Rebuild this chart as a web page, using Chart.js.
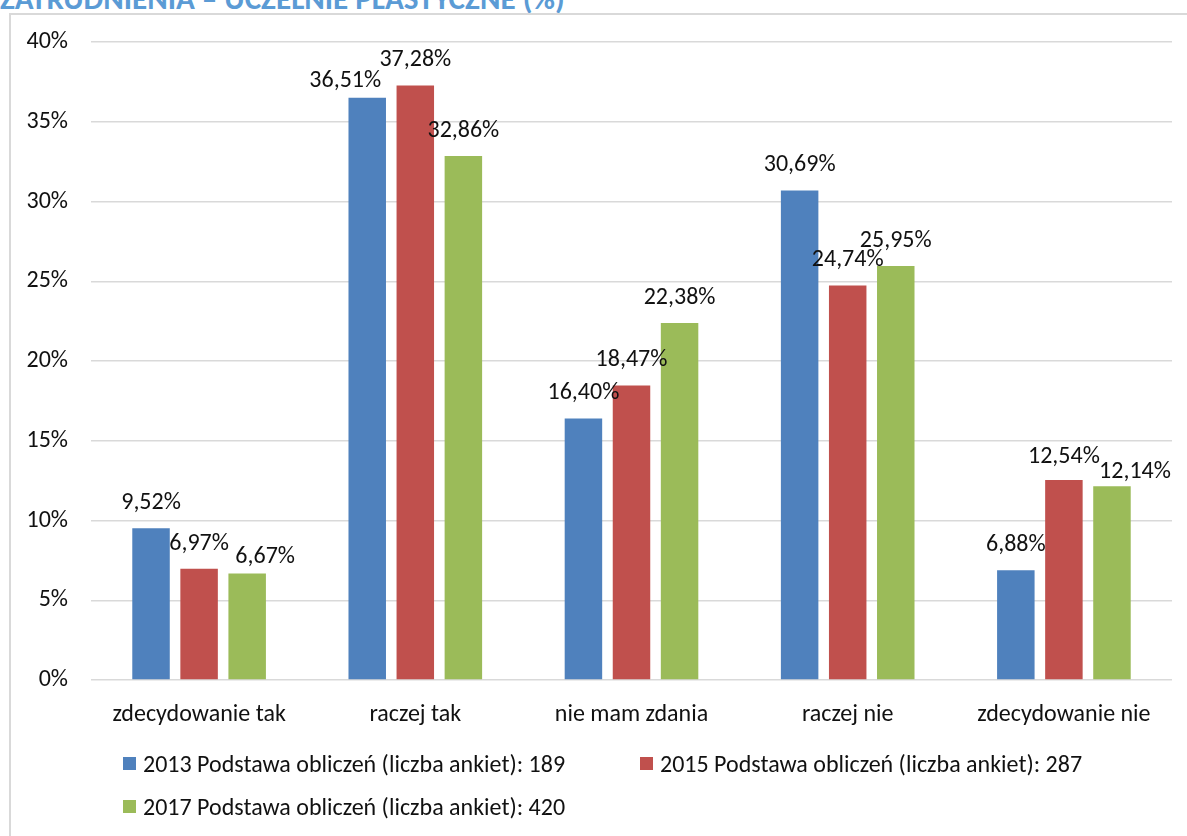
<!DOCTYPE html>
<html>
<head>
<meta charset="utf-8">
<script src="https://cdn.jsdelivr.net/npm/chart.js@4/dist/chart.umd.min.js"></script>
<style>
  html, body { margin:0; padding:0; background:#fff; }
  body { width:1187px; height:836px; position:relative; overflow:hidden; font-family: Carlito, Calibri, Lato, sans-serif; }
  #title { position:absolute; left:0px; top:-20px; font-weight:bold; color:#5B9BD5; font-size:30px; line-height:30px; white-space:nowrap; }
  #box { position:absolute; left:9px; top:13px; width:1300px; height:900px; border-left:2px solid #d9d9d9; border-top:2px solid #d9d9d9; }
  #wrap { position:absolute; left:0; top:0; width:1187px; height:836px; }
  .leg { position:absolute; display:flex; align-items:center; font-size:24px; color:#111; white-space:nowrap; }
  .leg span.sw { display:inline-block; width:13px; height:13px; margin-right:7px; }
</style>
</head>
<body>
<div id="title">ZATRUDNIENIA – UCZELNIE PLASTYCZNE (%)</div>
<div id="box"></div>
<div id="wrap"><canvas id="c" width="1187" height="836"></canvas></div>
<div id="legend"></div>
<script>
const categories = ["zdecydowanie tak", "raczej tak", "nie mam zdania", "raczej nie", "zdecydowanie nie"];
const seriesLabels = [
  "2013 Podstawa obliczeń (liczba ankiet): 189",
  "2015 Podstawa obliczeń (liczba ankiet): 287",
  "2017 Podstawa obliczeń (liczba ankiet): 420"
];
const values2013 = [9.52, 36.51, 16.40, 30.69, 6.88];
const values2015 = [6.97, 37.28, 18.47, 24.74, 12.54];
const values2017 = [6.67, 32.86, 22.38, 25.95, 12.14];
const yTicks = [0, 5, 10, 15, 20, 25, 30, 35, 40];

const colors = ["#4F81BD", "#C0504D", "#9BBB59"];
const FONT = "Carlito, Calibri, Lato, sans-serif";
const FS = 24;

// label nudges (dx, dy) per dataset, per category
const labelNudges = [
  [[0,0],[-22,8],[0,0],[0,0],[0,0]],
  [[0,0],[0,0],[0,0],[0,0],[0,2]],
  [[18,8],[0,0],[0,0],[0,0],[23,11]]
];

const fmt = v => v.toFixed(2).replace('.', ',') + '%';

const labelPlugin = {
  id: 'valueLabels',
  afterDatasetsDraw(chart) {
    const ctx = chart.ctx;
    ctx.save();
    ctx.font = FS + "px " + FONT;
    ctx.fillStyle = "#111";
    ctx.textAlign = "center";
    ctx.textBaseline = "middle";
    chart.data.datasets.forEach((ds, di) => {
      const meta = chart.getDatasetMeta(di);
      meta.data.forEach((el, i) => {
        const n = labelNudges[di][i];
        ctx.fillText(fmt(ds.data[i]), el.x + n[0], el.y - 25 + n[1]);
      });
    });
    ctx.restore();
  }
};

const seriesValues = [values2013, values2015, values2017];

new Chart(document.getElementById('c'), {
  type: 'bar',
  data: {
    labels: categories,
    datasets: seriesValues.map((d, i) => ({
      label: seriesLabels[i],
      data: d,
      backgroundColor: colors[i],
      borderWidth: 0,
      categoryPercentage: 0.667,
      barPercentage: 0.78
    }))
  },
  options: {
    responsive: false,
    animation: false,
    layout: { padding: { left: 0, right: 15, top: 42, bottom: 96 } },
    plugins: { legend: { display: false }, tooltip: { enabled: false } },
    scales: {
      x: {
        grid: { display: false },
        border: { display: false },
        ticks: { color: "#111", font: { family: FONT, size: FS }, padding: 13, maxRotation: 0 },
        afterFit(s) { s.height = 60; }
      },
      y: {
        min: 0, max: 40,
        afterBuildTicks(s) { s.ticks = yTicks.map(v => ({ value: v })); },
        grid: { color: "#d9d9d9", lineWidth: 1.5, drawTicks: false },
        border: { display: false },
        ticks: { color: "#111", font: { family: FONT, size: FS }, padding: 23, callback: v => v + '%' },
        afterFit(s) { s.width = 91; }
      }
    }
  },
  plugins: [labelPlugin]
});

// fit title width to the reference span
const title = document.getElementById('title');
const tw = title.getBoundingClientRect().width;
const fs = 30 * 565 / tw;
title.style.fontSize = fs + 'px';
title.style.lineHeight = fs + 'px';
title.style.top = (9 - fs * 0.85) + 'px';

// legend (HTML, built from series arrays)
const legPos = [[123, 763], [640, 763], [123, 806]];
const legend = document.getElementById('legend');
seriesLabels.forEach((t, i) => {
  const d = document.createElement('div');
  d.className = 'leg';
  d.style.left = legPos[i][0] + 'px';
  d.style.top = (legPos[i][1] - 15) + 'px';
  d.style.height = '30px';
  d.innerHTML = '<span class="sw" style="background:' + colors[i] + '"></span>' + t;
  legend.appendChild(d);
});
</script>
</body>
</html>
